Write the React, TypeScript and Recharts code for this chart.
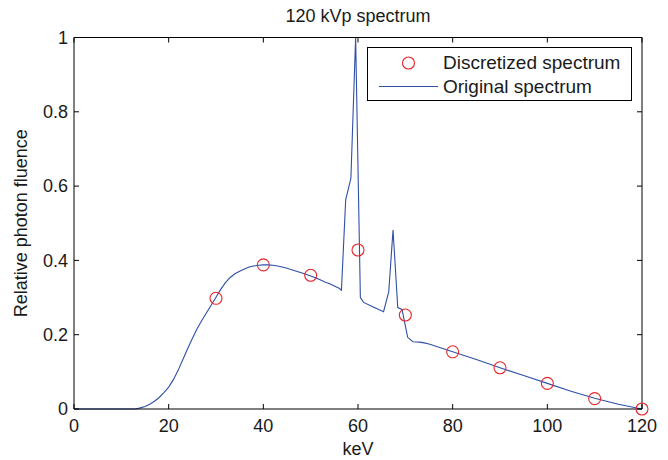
import React from 'react';
import {
  ComposedChart,
  Line,
  Scatter,
  XAxis,
  YAxis,
  Label,
} from 'recharts';

// original spectrum (keV, relative fluence)
const origEnergy = [
  0, 5, 10, 13, 14, 15, 16, 17, 18, 19, 20, 21, 22, 23, 24, 25, 26, 27, 28, 29, 30,
  31, 32, 33, 34, 35, 36, 37, 38, 39, 40, 41, 42, 43, 44, 45, 46, 47, 48, 49, 50,
  51, 52, 53, 54, 55, 56, 56.5, 57.4, 58.5, 59.5, 60.5, 61.2, 63, 65.4, 66.5, 67.4,
  68.4, 69.3, 70.5, 71.6, 73, 74, 75, 80, 85, 90, 95, 100, 105, 110, 115, 120,
];
const origFluence = [
  0, 0, 0, 0, 0.003, 0.007, 0.013, 0.021, 0.031, 0.044, 0.059, 0.079, 0.104, 0.133, 0.162, 0.19, 0.216, 0.238, 0.259, 0.28, 0.301,
  0.322, 0.34, 0.354, 0.364, 0.371, 0.377, 0.382, 0.385, 0.387, 0.388, 0.388, 0.387, 0.385, 0.382, 0.379, 0.375, 0.371, 0.367, 0.363, 0.358,
  0.353, 0.348, 0.342, 0.337, 0.331, 0.325, 0.32, 0.563, 0.621, 1.0, 0.3, 0.287, 0.276, 0.262, 0.316, 0.482,
  0.273, 0.268, 0.193, 0.181, 0.18, 0.178, 0.175, 0.154, 0.133, 0.111, 0.09, 0.069, 0.048, 0.029, 0.013, 0,
];

// discretized spectrum
const discEnergy = [30, 40, 50, 60, 70, 80, 90, 100, 110, 120];
const discFluence = [0.298, 0.388, 0.36, 0.428, 0.253, 0.154, 0.111, 0.069, 0.028, 0];

const xTicks = [0, 20, 40, 60, 80, 100, 120];
const yTicks = [0, 0.2, 0.4, 0.6, 0.8, 1];

const origData = origEnergy.map((e, i) => ({ e, v: origFluence[i] }));
const discData = discEnergy.map((e, i) => ({ e, v: discFluence[i] }));

const FONT = '"Liberation Sans", Arial, Helvetica, sans-serif';
const TEXT = '#1a1a1a';
const BLUE = '#2f4fa8';
const RED = '#e8252b';
const tickStyle = { fontSize: 18, fill: TEXT, fontFamily: FONT };

const Ring = (props: any) => {
  const { cx, cy } = props;
  if (cx == null || cy == null) return null;
  return <circle cx={cx} cy={cy} r={6} fill="none" stroke={RED} strokeWidth={1.1} />;
};

export default function App() {
  return (
    <div style={{ position: 'absolute', left: 0, top: 0, width: 668, height: 460, background: '#fff' }}>
      <ComposedChart
        width={668}
        height={460}
        margin={{ top: 36.5, right: 25, bottom: 0, left: 14 }}
      >
        <XAxis
          xAxisId="bottom"
          type="number"
          dataKey="e"
          domain={[0, 120]}
          ticks={xTicks}
          height={51}
          tick={tickStyle}
          tickSize={-5}
          tickMargin={15}
          axisLine={{ stroke: '#000' }}
          tickLine={{ stroke: '#000' }}
        >
          <Label
            content={({ viewBox }: any) => (
              <text
                x={viewBox.x + viewBox.width / 2}
                y={455}
                textAnchor="middle"
                fontSize={18}
                fontFamily={FONT}
                fill={TEXT}
              >
                keV
              </text>
            )}
          />
        </XAxis>
        <XAxis
          xAxisId="top"
          orientation="top"
          type="number"
          dataKey="e"
          domain={[0, 120]}
          ticks={xTicks}
          height={1}
          tick={{ fontSize: 1, fill: 'none' }}
          tickFormatter={() => ''}
          tickSize={-5}
          axisLine={{ stroke: '#000' }}
          tickLine={{ stroke: '#000' }}
        >
          <Label
            content={({ viewBox }: any) => (
              <text
                x={viewBox.x + viewBox.width / 2}
                y={22}
                textAnchor="middle"
                fontSize={18}
                fontFamily={FONT}
                fill={TEXT}
              >
                120 kVp spectrum
              </text>
            )}
          />
        </XAxis>
        <YAxis
          yAxisId="left"
          type="number"
          domain={[0, 1]}
          ticks={yTicks}
          width={60}
          tick={tickStyle}
          tickSize={-5}
          tickMargin={11}
          axisLine={{ stroke: '#000' }}
          tickLine={{ stroke: '#000' }}
        >
          <Label
            content={({ viewBox }: any) => {
              const cy = viewBox.y + viewBox.height / 2;
              return (
                <text
                  x={21}
                  y={cy}
                  transform={`rotate(-90 21 ${cy})`}
                  textAnchor="middle"
                  dominantBaseline="central"
                  fontSize={18}
                  fontFamily={FONT}
                  fill={TEXT}
                >
                  Relative photon fluence
                </text>
              );
            }}
          />
        </YAxis>
        <YAxis
          yAxisId="right"
          orientation="right"
          type="number"
          domain={[0, 1]}
          ticks={yTicks}
          width={1}
          tick={{ fontSize: 1, fill: 'none' }}
          tickFormatter={() => ''}
          tickSize={-5}
          axisLine={{ stroke: '#000' }}
          tickLine={{ stroke: '#000' }}
        />
        <Line
          xAxisId="bottom"
          yAxisId="left"
          data={origData}
          dataKey="v"
          type="linear"
          stroke={BLUE}
          strokeWidth={1.1}
          dot={false}
          activeDot={false}
          isAnimationActive={false}
        />
        <Scatter
          xAxisId="top"
          yAxisId="right"
          data={discData}
          dataKey="v"
          shape={Ring}
          isAnimationActive={false}
        />
      </ComposedChart>

      <div
        style={{
          position: 'absolute',
          left: 367,
          top: 47,
          width: 263,
          height: 52,
          border: '1px solid #000',
          background: '#fff',
          fontFamily: FONT,
          fontSize: 19,
          color: TEXT,
        }}
      >
        <svg width={70} height={52} style={{ position: 'absolute', left: 0, top: 0 }}>
          <circle cx={40.5} cy={15} r={6} fill="none" stroke={RED} strokeWidth={1.1} />
          <line x1={11} x2={70} y1={38.5} y2={38.5} stroke={BLUE} strokeWidth={1.1} />
        </svg>
        <div style={{ position: 'absolute', left: 75, top: 3, lineHeight: '24px', whiteSpace: 'nowrap' }}>
          Discretized spectrum
        </div>
        <div style={{ position: 'absolute', left: 75, top: 27, lineHeight: '24px', whiteSpace: 'nowrap' }}>
          Original spectrum
        </div>
      </div>
    </div>
  );
}
